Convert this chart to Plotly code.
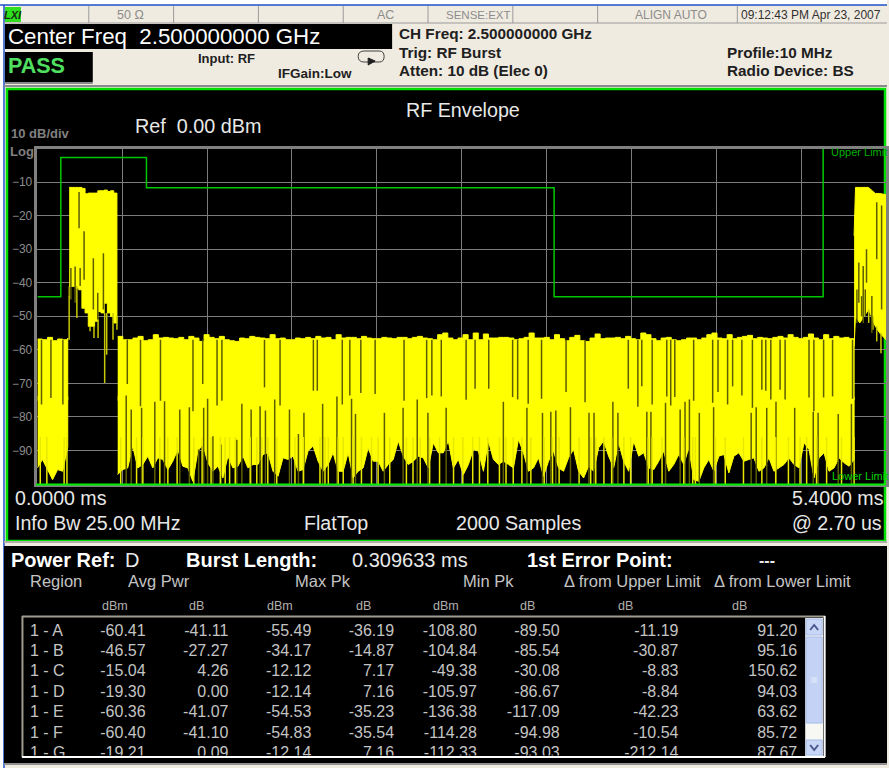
import numpy as np
import plotly.graph_objects as go

W, H = 889, 768
# ---------- readings from the trace (ms / dBm) ----------
noise_high = [-56.0,-57.0,-57.0,-56.5,-56.0,-57.3,-57.0,-55.5,-56.5,-56.3,-56.5,-56.7,-56.3,-57.0,-56.0,-56.5,-57.5,-55.5,-56.3,-56.7,
 -56.0,-57.0,-57.3,-57.5,-56.5,-56.7,-56.0,-56.3,-56.5,-56.7,-55.5,-56.7,-56.5,-57.0,-57.0,-56.5,-56.7,-56.3,-56.7,
 -56.0,-56.5,-56.3,-57.0,-55.5,-56.5,-56.3,-56.3,-56.7,-56.0,-56.5,-56.7,-56.7,-56.3,-56.5,-56.7,-56.3,-56.3,-56.7,-56.3,
 -56.0,-56.5,-56.7,-57.0,-55.5,-55.0,-56.5,-57.0,-56.5,-55.5,-57.0,-55.0,-57.0,-55.3,-56.5,-56.5,-56.3,-56.3,
 -56.5,-57.0,-56.7,-56.3,-55.0,-56.5,-56.5,-56.3,-57.0,-55.5,-56.7,-57.3,-56.3,-55.7,-57.3,-57.5,-56.5,-55.3,-56.7,-56.5,
 -56.5,-56.3,-56.7,-56.0,-56.7,-57.0,-55.0,-55.5,-56.7,-57.3,-56.5,-56.3,-57.0,-57.3,-57.0,-56.5,
 -56.5,-57.0,-56.5,-55.5,-55.0,-56.5,-56.7,-55.5,-56.7,-56.3,-56.0,-55.7,-56.7,-56.3,-56.5,-56.7,-56.3,-56.0,-56.5,-55.5,
 -56.3,-56.7,-56.3,-55.3,-56.5,-57.0,-55.5,-56.7,-56.0,-56.5,-56.3,-56.7,-57.0]
noise_low = [-97.2,-95.7,-95.2,-88.7,-95.2,-94.2,-91.7,-95.2,-92.2,-92.7,-95.7,-93.2,-89.7,-94.7,-95.2,-99.2,-90.2,-88.2,-93.7,-96.2,
 -94.7,-98.2,-91.7,-95.2,-94.7,-91.7,-95.2,-94.2,-94.2,-91.2,-90.7,-96.2,-97.7,-92.2,-92.7,-91.7,-96.2,-95.7,-90.2,
 -88.7,-93.2,-96.2,-94.2,-90.7,-96.2,-96.2,-90.7,-98.2,-96.2,-95.2,-89.2,-93.2,-93.2,-96.2,-94.2,-92.7,-87.2,-91.7,-94.2,
 -93.2,-91.7,-92.2,-95.2,-87.7,-90.7,-90.7,-87.2,-95.2,-92.7,-97.2,-94.2,-89.7,-90.2,-96.2,-87.2,-92.7,-94.2,
 -93.2,-94.2,-95.2,-86.7,-90.7,-96.2,-95.2,-92.2,-97.7,-93.2,-90.2,-95.2,-96.2,-92.2,-89.7,-96.2,-98.2,-94.7,-96.2,-89.2,
 -87.2,-91.7,-95.2,-87.7,-93.2,-96.2,-87.2,-91.7,-90.7,-95.2,-95.7,-93.2,-90.2,-96.2,-94.2,-91.2,-94.2,-89.2,
 -98.7,-99.2,-95.2,-92.7,-96.2,-91.7,-91.2,-96.7,-91.7,-90.7,-93.2,-92.7,-92.2,-96.2,-95.2,-92.2,-96.2,-95.2,-94.2,-92.2,
 -94.2,-95.2,-87.7,-89.7,-98.2,-92.2,-90.7,-96.2,-95.2,-92.2,-93.7,-94.7,-92.7]
noise_start_ms, noise_end_ms = 0.511, 5.197

left_high = [-56.8,-57.0,-56.3,-57.3,-56.8,-57.0,-56.5]
left_low = [-95.2,-92.7,-95.7,-98.7,-95.7,-96.2,-89.0]
left_start_ms, left_end_ms = 0.0, 0.193

burst_high = [-11.6,-11.6,-11.6,-11.6,-11.9,-13.5,-13.3,-13.3,-13.3,-12.6,-12.6,-12.4,-12.8,-12.6,-13.3,-18.8]
burst_low = [-44.1,-41.1,-41.1,-41.6,-42.1,-47.6,-49.0,-53.0,-53.0,-51.5,-48.6,-49.0,-46.1,-49.0,-50.1,-52.0]
burst_start_ms, burst_end_ms = 0.202, 0.506

rb_ms = [5.197,5.206,5.233,5.261,5.290,5.307,5.332,5.360,5.400]
rb_high = [-26.0,-11.6,-11.6,-11.6,-11.6,-12.4,-13.4,-13.4,-13.8]
rb_low = [-59.0,-50.0,-52.0,-50.0,-48.0,-50.0,-53.0,-55.0,-57.0]

upper_notch_ms = [0.026,0.086,0.162,0.572,0.656,0.783,0.990,1.052,1.143,1.174,1.445,1.544,1.756,1.781,1.940,1.988,2.058,2.149,2.333,2.477,2.510,2.570,2.728,2.785,2.872,
 3.024,3.056,3.123,3.208,3.364,3.485,3.760,3.821,3.846,3.912,4.005,4.030,4.056,4.176,4.297,4.331,4.392,4.424,4.483,4.550,4.610,4.635,4.667,4.726,4.758,4.910,4.941,5.003,5.060,5.187]
upper_notch_db = [-76.3,-74.4,-76.3,-70.2,-76.8,-75.2,-78.3,-70.2,-76.6,-75.2,-71.2,-76.6,-72.2,-72.2,-76.3,-73.6,-72.9,-73.2,-75.2,-74.4,-73.6,-73.9,-74.9,-71.6,-71.6,
 -74.1,-74.8,-76.1,-74.6,-72.6,-75.6,-71.6,-77.0,-70.9,-76.3,-73.9,-76.6,-74.1,-75.2,-75.8,-72.6,-76.3,-70.9,-73.6,-77.3,-71.9,-72.2,-74.8,-71.9,-74.8,-74.2,-78.3,-74.2,-73.9,-74.6]
lower_notch_ms = [0.565,0.597,0.663,0.747,0.809,0.906,0.967,1.026,1.058,1.083,1.117,1.168,1.269,1.301,1.360,1.417,1.451,1.510,1.604,1.661,1.696,1.815,1.906,1.999,2.024,2.208,2.327,2.417,2.485,2.601,
 2.965,3.115,3.214,3.267,3.299,3.392,3.510,3.542,3.662,3.694,3.878,3.904,3.997,4.090,4.121,4.149,4.212,4.303,4.542,4.574,4.641,4.700,4.819,4.937,4.968,5.096,5.180]
lower_notch_db = [-73.6,-77.8,-77.3,-75.5,-75.3,-77.8,-77.1,-89.7,-77.3,-74.6,-85.8,-88.2,-86.8,-76.1,-77.8,-76.8,-78.1,-74.8,-77.8,-85.1,-78.8,-76.1,-73.9,-74.6,-79.1,-78.8,-77.3,-74.8,-78.8,-77.3,
 -75.5,-77.3,-78.8,-78.5,-78.1,-77.1,-78.8,-78.8,-75.5,-78.8,-78.5,-78.5,-75.8,-77.8,-75.5,-74.8,-78.8,-77.1,-78.8,-77.1,-77.3,-75.5,-77.3,-78.5,-78.8,-79.1,-76.1]
floor_spike_ms = [0.530,0.631,0.671,0.779,0.830,0.889,0.995,1.048,1.105,1.164,1.195,1.223,1.259,1.354,1.396,1.428,1.466,1.523,1.639,1.692,
 1.798,1.830,1.851,1.914,1.946,2.009,2.062,2.126,2.168,2.242,2.348,2.390,2.436,2.496,2.559,2.648,2.707,2.770,2.813,2.866,
 2.940,2.982,3.028,3.083,3.140,3.225,3.278,3.320,3.447,3.521,3.553,3.605,3.654,3.732,3.775,3.887,3.912,3.975,4.113,
 4.170,4.187,4.314,4.377,4.493,4.610,4.698,4.779,4.853,4.895,4.958,5.022,5.117,0.018,0.060,0.170,0.188,5.197]
burst_dark_ms = [0.265,0.297,0.420,0.356,0.240,0.213,0.272,0.384,5.341,5.227,5.255,5.276,5.310,5.372,5.215,5.245,5.268]
burst_dark_top = [-13.0,-24.7,-31.2,-32.7,-35.2,-35.6,-35.6,-43.0,-16.0,-34.0,-35.0,-30.0,-44.0,-17.0,-42.0,-44.0,-42.0]
burst_dark_bot = [-23.8,-39.1,-48.0,-48.0,-46.0,-45.0,-41.0,-51.0,-33.0,-46.0,-52.0,-40.0,-55.0,-48.0,-52.0,-50.0,-50.0]
burst_tail_ms = [0.202,0.251,0.335,0.360,0.386,0.428,0.441,0.481,0.506,5.290,5.317,5.341,5.368]
burst_tail_top = [-44.0,-41.0,-53.0,-53.0,-51.0,-49.0,-49.0,-49.0,-50.0,-48.0,-50.0,-53.0,-55.0]
burst_tail_bot = [-57.0,-50.5,-54.5,-56.5,-56.5,-69.9,-61.5,-57.0,-54.0,-52.0,-54.0,-57.5,-61.0]

limit_ms = [0.0,0.149,0.149,0.694,0.694,3.288,3.288,5.000,5.000,5.400]
limit_db = [-44.2,-44.2,-2.7,-2.7,-11.7,-11.7,-44.2,-44.2,2.2,2.2]
y_ticks = [-10,-20,-30,-40,-50,-60,-70,-80,-90]

# ---------- result table ----------
regions = ["1 - A","1 - B","1 - C","1 - D","1 - E","1 - F","1 - G"]
avg_dbm = ["-60.41","-46.57","-15.04","-19.30","-60.36","-60.40","-19.21"]
avg_db = ["-41.11","-27.27","4.26","0.00","-41.07","-41.10","0.09"]
max_dbm = ["-55.49","-34.17","-12.12","-12.14","-54.53","-54.83","-12.14"]
max_db = ["-36.19","-14.87","7.17","7.16","-35.23","-35.54","7.16"]
min_dbm = ["-108.80","-104.84","-49.38","-105.97","-136.38","-114.28","-112.33"]
min_db = ["-89.50","-85.54","-30.08","-86.67","-117.09","-94.98","-93.03"]
from_upper = ["-11.19","-30.87","-8.83","-8.84","-42.23","-10.54","-212.14"]
from_lower = ["91.20","95.16","150.62","94.03","63.62","85.72","87.67"]
columns = [avg_dbm, avg_db, max_dbm, max_db, min_dbm, min_db, from_upper, from_lower]
col_right = [146,229,312,395,478,561,680,799]

YEL, OLIVE = "#ffff00", "#5e5e00"
LIME, BEIGE = "#00e000", "#f0ebe0"
FONT = "Liberation Sans"
BAND_MID_DB = -75.0

def segs(xs, a, b):
    X, Y = [], []
    for x, p, q in zip(xs, a, b):
        X += [x, x, None]; Y += [p, q, None]
    return X, Y

def poly(x0, x1, hi, lo):
    hx = list(np.linspace(x0, x1, len(hi)))
    lx = list(np.linspace(x0, x1, len(lo)))
    return hx + lx[::-1], list(hi) + list(lo)[::-1]

def band(x, y, shape="linear"):
    return go.Scatter(x=x, y=y, mode="lines", fill="toself", fillcolor=YEL,
                      line=dict(color=YEL, width=1, shape=shape))

fig = go.Figure()
for x0, x1, hi, lo in [(noise_start_ms, noise_end_ms, noise_high, noise_low),
                       (left_start_ms, left_end_ms, left_high, left_low)]:
    X, Y = poly(x0, x1, hi, [BAND_MID_DB, BAND_MID_DB])
    fig.add_trace(band(X, Y, "hv"))
    X, Y = poly(x0, x1, [BAND_MID_DB + 1, BAND_MID_DB + 1], lo)
    fig.add_trace(band(X, Y))
X, Y = poly(burst_start_ms, burst_end_ms, burst_high, burst_low)
fig.add_trace(band(X, Y, "hv"))
fig.add_trace(band(rb_ms + rb_ms[::-1], rb_high + rb_low[::-1]))

X, Y = segs(burst_tail_ms, burst_tail_top, burst_tail_bot)
fig.add_trace(go.Scatter(x=X, y=Y, mode="lines", line=dict(color="#c8c800", width=1.5)))
X, Y = segs(upper_notch_ms, [-57.0]*len(upper_notch_ms), upper_notch_db)
fig.add_trace(go.Scatter(x=X, y=Y, mode="lines", line=dict(color=OLIVE, width=1.5)))
X, Y = segs(lower_notch_ms, lower_notch_db, [-100.0]*len(lower_notch_ms))
fig.add_trace(go.Scatter(x=X, y=Y, mode="lines", line=dict(color=OLIVE, width=1.5)))
X, Y = segs(floor_spike_ms, [-86.0]*len(floor_spike_ms), [-100.0]*len(floor_spike_ms))
fig.add_trace(go.Scatter(x=X, y=Y, mode="lines", line=dict(color="#e8e800", width=1.5)))
X, Y = segs(burst_dark_ms, burst_dark_top, burst_dark_bot)
fig.add_trace(go.Scatter(x=X, y=Y, mode="lines", line=dict(color=OLIVE, width=1.5)))
fig.add_trace(go.Scatter(x=limit_ms, y=limit_db, mode="lines", cliponaxis=False,
                         line=dict(color="#00c800", width=1.5)))

# table
TXT = "#c4c4c4"
tf = dict(family=FONT, size=16, color=TXT)
rows = list(range(len(regions)))
fig.add_trace(go.Scatter(x=[30]*7, y=rows, text=regions, mode="text", textposition="middle right",
                         textfont=tf, xaxis="x2", yaxis="y2"))
for c, col in zip(col_right, columns):
    fig.add_trace(go.Scatter(x=[c]*7, y=rows, text=col, mode="text", textposition="middle left",
                             textfont=tf, xaxis="x2", yaxis="y2"))

def PX(x): return x / W
def PY(y): return 1 - y / H

shapes = []
def rect(x0, y0, x1, y1, fill=None, line=None, lw=0, layer="below"):
    shapes.append(dict(type="rect", xref="paper", yref="paper", x0=PX(x0), x1=PX(x1), y0=PY(y0), y1=PY(y1),
                       fillcolor=fill, line=dict(color=line, width=lw), layer=layer))
def hline(x0, y0, x1, y1, color, lw=1, layer="below"):
    shapes.append(dict(type="line", xref="paper", yref="paper", x0=PX(x0), x1=PX(x1), y0=PY(y0), y1=PY(y1),
                       line=dict(color=color, width=lw), layer=layer))

rect(0, 0, W, H, "#ffffff")
rect(4, 5, W, H, BEIGE)
hline(0, 5, W, 5, "#1e50c8", 1.5)
hline(4, 5, 4, H, "#1e50c8", 1.5)
hline(4, 23, W, 23, "#9a9a9a", 1)
for x in [89,174,259,344,429,514,599,739]:
    hline(x, 6, x, 23, "#9a9a9a", 1)
rect(5, 7, 21, 22, "#30e020")
rect(5, 24, 393, 49, "#000000")
rect(5, 52, 93, 82, "#000000")
hline(5, 83, 93, 83, "#8a8a8a", 2)
hline(4, 86, W, 86, "#8a8a8a", 2)
rect(7, 89, 887, 541, "#000000", LIME, 2.5)
rect(4, 546, W, 763, "#000000")
hline(4, 542, W, 542, "#b0b0a8", 2)
hline(4, 764, W, 764, "#909090", 2)
hline(36, 484.5, 888, 484.5, "#00f000", 2, "above")
# table frame
hline(22, 616.5, 827, 616.5, "#a09c90", 2)
hline(22.5, 616, 22.5, 757, "#a09c90", 2)
hline(22, 757, 827, 757, "#ffffff", 2, "above")
hline(826.5, 616, 826.5, 757, "#ffffff", 2, "above")
# scroll bar
rect(807, 618, 825, 756, "#f7f7f4", None, 0, "above")
rect(808, 619, 824, 635, "#c8d6f8", "#a8bce8", 1, "above")
rect(808, 637, 824, 723, "#c4d2f6", "#a8bce8", 1, "above")
rect(808, 740, 824, 755, "#c8d6f8", "#a8bce8", 1, "above")
for y in [678, 680, 682]:
    hline(813, y, 819, y, "#e8eefc", 1, "above")
shapes.append(dict(type="path", xref="paper", yref="paper", layer="above", line=dict(color="#4a5a90", width=2),
    path=f"M {PX(812)} {PY(630)} L {PX(816)} {PY(625)} L {PX(820)} {PY(630)}"))
shapes.append(dict(type="path", xref="paper", yref="paper", layer="above", line=dict(color="#4a5a90", width=2),
    path=f"M {PX(812)} {PY(745)} L {PX(816)} {PY(750)} L {PX(820)} {PY(745)}"))
# loop icon
shapes.append(dict(type="path", xref="paper", yref="paper", layer="below", line=dict(color="#404040", width=1),
    path=(f"M {PX(365)} {PY(51)} L {PX(380)} {PY(51)} Q {PX(385)} {PY(51)} {PX(385)} {PY(56.5)} "
          f"Q {PX(385)} {PY(62)} {PX(380)} {PY(62)} L {PX(365)} {PY(62)} Q {PX(359)} {PY(62)} {PX(359)} {PY(56.5)} "
          f"Q {PX(359)} {PY(51)} {PX(365)} {PY(51)} Z")))
shapes.append(dict(type="path", xref="paper", yref="paper", layer="below", fillcolor="#202020", line=dict(color="#202020", width=1),
    path=f"M {PX(369)} {PY(58)} L {PX(369)} {PY(65)} L {PX(376)} {PY(61)} Z"))

ann = []
def T(x, y, s, size, color="#ffffff", anchor="left", bold=False, family=FONT):
    ann.append(dict(xref="paper", yref="paper", x=PX(x), y=PY(y), text=f"<b>{s}</b>" if bold else s,
                    showarrow=False, xanchor=anchor, yanchor="middle", borderpad=0,
                    font=dict(family=family, size=size, color=color)))

GR, DK = "#8c8c8c", "#202020"
T(13, 15, "<i>LXI</i>", 11, "#103010", "center", True)
T(131, 15, "50 Ω", 12.5, GR, "center")
T(386, 15, "AC", 12.5, GR, "center")
T(480, 15, "SENSE:EXT", 11.5, GR, "center")
T(673, 15, "ALIGN AUTO", 12, GR, "center")
T(813, 15, "09:12:43 PM Apr 23, 2007", 12, "#303030", "center")
T(7, 36, "Center Freq  2.500000000 GHz", 22.3, "#ffffff", bold=False)
T(7, 66, "PASS", 21.5, "#50e060", bold=True)
T(197, 58, "Input: RF", 13, DK, bold=True)
T(278, 73, "IFGain:Low", 13.5, DK, bold=True)
T(399, 33, "CH Freq: 2.500000000 GHz", 15.3, DK, bold=True)
T(399, 52, "Trig: RF Burst", 15.3, DK, bold=True)
T(399, 71, "Atten: 10 dB (Elec 0)", 15.3, DK, bold=True)
T(728, 52, "Profile:10 MHz", 15.3, DK, bold=True)
T(728, 71, "Radio Device: BS", 15.3, DK, bold=True)
T(464, 110, "RF Envelope", 19.7, "#e8e8e8", "center")
T(134, 126, "Ref  0.00 dBm", 19.8, "#e8e8e8")
T(10, 134, "10 dB/div", 13, "#808080", bold=True)
T(9, 152, "Log", 13, "#808080", bold=True)
T(832, 152, "Upper Limit", 11, "#00b000")
T(833, 476, "Lower Limit", 11, "#00d000")
T(14, 498, "0.0000 ms", 19.6, "#e8e8e8")
T(887, 498, "5.4000 ms", 19.6, "#e8e8e8", "right")
T(14, 523, "Info Bw 25.00 MHz", 19.6, "#e8e8e8")
T(337, 523, "FlatTop", 19.6, "#e8e8e8", "center")
T(520, 523, "2000 Samples", 19.6, "#e8e8e8", "center")
T(885, 523, "@ 2.70 us", 19.6, "#e8e8e8", "right")
T(10, 560, "Power Ref:", 20, "#ffffff", bold=True)
T(124, 560, "D", 20, "#e8e8e8")
T(185, 560, "Burst Length:", 20, "#ffffff", bold=True)
T(352, 560, "0.309633 ms", 20, "#e8e8e8")
T(527, 560, "1st Error Point:", 20, "#ffffff", bold=True)
T(769, 560, "---", 16, "#e8e8e8", "center", True)
for x, s, a in [(29,"Region","left"),(127,"Avg Pwr","left"),(295,"Max Pk","left"),(463,"Min Pk","left"),
                (564,"Δ from Upper Limit","left"),(715,"Δ from Lower Limit","left")]:
    T(x, 581, s, 16.5, TXT, a)
for x, s in [(115,"dBm"),(197,"dB"),(281,"dBm"),(364,"dB"),(447,"dBm"),(529,"dB"),(627,"dB"),(741,"dB")]:
    T(x, 606, s, 12.5, "#b0b0b0", "center")

rng_tb = [(755.5 - 631.5) / 20.4, (618 - 631.5) / 20.4]
fig.update_layout(
    width=W, height=H, margin=dict(l=0, r=0, t=0, b=0), showlegend=False,
    paper_bgcolor=BEIGE, plot_bgcolor="#000000", shapes=shapes, annotations=ann, hovermode=False,
    xaxis=dict(domain=[PX(37.5), PX(888)], range=[0, 5.4], dtick=0.54, tick0=0, showgrid=True, gridcolor="#7c7c7c", gridwidth=1,
               zeroline=False, showticklabels=False, ticks="", showline=True, linecolor="#808080", linewidth=2.5, mirror=True, anchor="y"),
    yaxis=dict(domain=[PY(484), PY(148.5)], range=[-100, 0], tickvals=y_ticks, showgrid=True, gridcolor="#7c7c7c", gridwidth=1,
               zeroline=False, ticks="", showline=True, linecolor="#808080", linewidth=2.5, mirror=True, anchor="x",
               tickfont=dict(family=FONT, size=12, color="#8c8c8c"), ticklabelposition="outside"),
    xaxis2=dict(domain=[PX(24), PX(807)], range=[24, 807], visible=False, anchor="y2"),
    yaxis2=dict(domain=[PY(755.5), PY(618)], range=rng_tb, visible=False, anchor="x2"),
)
fig.write_html("out.html", config=dict(displayModeBar=False),
               post_script="document.body.style.margin='0';document.documentElement.style.overflow='hidden';")
